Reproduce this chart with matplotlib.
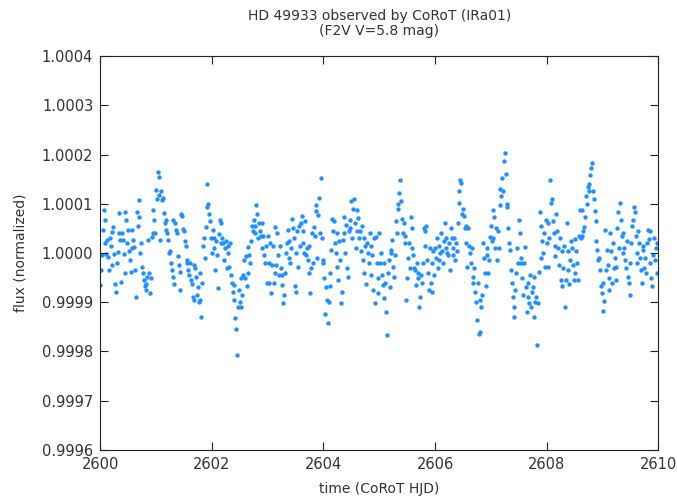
import numpy as np
import matplotlib
matplotlib.use("Agg")
import matplotlib.pyplot as plt
from matplotlib.ticker import FormatStrFormatter, MultipleLocator

# Flux deviations (ppm), one list per day,
# equally spaced points inside each day
d2600 = [-65, -35, -4, 47, 87, 67, 20, -2, 26, -8, -35, 30, 14, -25, 43, 53,
         -2, -62, -79, -21, 2, 81, 40, 26, -58, 40, 26, -3, -41, 84, 67, 20,
         47, 4, -14, -38, 10, 47, 26, 13, -35, -89, 84, 55, 108, 74, 0, 20,
         -28, -41, -55, -68, -75, -62, -48, 26, -40, -82, -50, 33, 40, 87, 67, 40]
d2601 = [128, 110, 165, 155, 118, 26, 125, 108, 112, 81, 60, 67, 47, 40, 26, 0,
         5, -20, -35, -48, 67, -62, 60, 47, 40, -7, -24, -38, -75, 80, 75, 48,
         45, 25, 15, -20, -14, -35, -45, -20, -55, -62, -90, -25, -95, -30, -48, -85,
         -70, -100, -40, -95, -130, -60, 15, 30, -10, 53, 94, 141, 100, 80, 64, 30]
d2602 = [0, 47, 30, 10, -35, 25, -5, -72, 38, 67, 20, 60, 30, 20, -14, 10,
         25, -30, 0, 15, -28, 20, -45, -60, -80, -65, -95, -133, -155, -207, -110, -75,
         -100, -110, -50, -85, -45, -14, -50, -7, -68, -40, 13, -5, -20, 25, 55, 45,
         67, 40, 55, 97, 80, 30, 60, 45, 35, 60, 10, 35, -5, -21, 15, -60]
d2603 = [35, -21, -60, 20, -82, -25, 15, -60, 53, -40, -25, 40, -5, -45, 15, -30,
         -45, -65, -102, -85, -40, 0, 20, 47, -10, 25, -20, 10, 70, 50, 30, -68,
         0, -80, 45, -28, 55, 15, 60, 75, 45, 20, 0, 65, -5, 10, -15, -40,
         15, -82, -30, 40, -20, 53, 35, 97, 85, -10, 78, 111, 40, 152, 30, -20]
d2604 = [-15, -50, -123, -70, -95, -143, -100, -68, -40, 6, 70, 45, 65, 20, 0, -28,
         40, -55, 25, -15, -102, -80, 26, 40, 74, 0, 57, -30, -48, 45, 50, 67,
         105, 30, 90, 110, 60, 10, 87, 45, 72, 30, 45, 5, 55, -15, 30, -41,
         15, -62, 20, 0, -20, 40, 15, -45, -5, -75, 30, -102, 33, -20, -50, -82]
d2605 = [40, -20, 0, -45, -65, -20, -92, -60, -119, -167, -40, -14, -70, 0, 6, 26,
         -28, -48, -5, 64, 40, 100, 90, 121, 148, 105, 70, 40, 60, 20, 35, -95,
         -50, -10, 20, -30, 74, 50, 10, -5, -30, -35, -65, -20, -50, -40, -109, -89,
         -45, -60, -20, 50, 45, 15, 55, -15, -40, -75, 10, -60, -80, -20, 5, -45]
d2606 = [10, -10, 30, -30, 15, -15, 0, 40, 5, -20, 25, 60, 10, 30, 0, -5,
         20, -35, 50, 30, 10, -5, 30, -14, 20, 5, 60, 101, 125, 148, 143, 80,
         90, 75, 50, 20, 55, -28, 50, 15, 0, -20, 10, -48, -60, -30, -80, -100,
         -136, -60, -165, -95, -160, -110, -85, 20, -10, -41, -68, 10, -5, -40, -14, 33]
d2607 = [55, 25, 87, 30, 74, 10, 50, -14, 45, 10, 97, 130, 115, 152, 125, 186,
         203, 160, 94, 100, 50, 20, 6, -35, -60, -90, -130, -109, -75, -40, 10, -21,
         67, 40, -10, -20, -50, -85, -20, 12, -70, -119, -89, -60, -102, -45, -109, -80,
         -70, -48, -130, -100, -90, -187, -102, -38, 84, -10, 55, 25, 0, 40, -28, 67]
d2608 = [20, -28, 60, 30, 148, 102, 110, 65, 40, 15, -7, 80, 45, 10, -25, 30,
         -55, 5, -68, -30, 15, -109, -55, 60, 5, -35, -62, -15, 25, 10, -25, -55,
         28, -40, 5, -20, -55, 35, 87, 30, 35, 87, 45, 53, 74, 115, 100, 135,
         125, 140, 158, 172, 182, 125, 110, 85, 64, 25, 6, -14, -10, -35, -68, -82]
d2609 = [-118, -60, -98, 47, -35, 6, -25, -50, -75, 40, 5, -60, 20, -30, -10, -28,
         -55, 50, 84, 10, 101, 67, 35, 0, 40, 10, -15, -30, 25, -48, -60, -85,
         -20, 20, 55, 67, 94, 84, 35, 0, -20, 45, 20, -10, -35, -60, 6, 15,
         -30, -10, -40, 20, 47, 28, -20, 45, -50, -68, -5, 30, -15, 10, -40, 20]

days = [2600, 2601, 2602, 2603, 2604, 2605, 2606, 2607, 2608, 2609]
per_day = [d2600, d2601, d2602, d2603, d2604, d2605, d2606, d2607, d2608, d2609]

time = []
flux = []
for day, vals in zip(days, per_day):
    n = len(vals)
    time.extend(day + np.arange(n) / n)
    flux.extend(1.0 + np.array(vals) * 1e-6)

txt = "#333333"
plt.rcParams['font.family'] = 'DejaVu Sans'

fig = plt.figure(figsize=(6.77, 4.97), dpi=100)
ax = fig.add_axes([0.148, 0.0946, 0.8244, 0.7927])

ax.scatter(time, flux, s=10, color="#1e90ff", linewidths=0)

ax.set_xlim(2600, 2610)
ax.set_ylim(0.9996, 1.0004)
ax.xaxis.set_major_locator(MultipleLocator(2))
ax.yaxis.set_major_locator(MultipleLocator(0.0001))
ax.yaxis.set_major_formatter(FormatStrFormatter('%.4f'))

ax.tick_params(direction='in', length=6, width=0.8, top=True, right=True,
               labelsize=10.5, colors="#222222", labelcolor=txt, pad=5)
for sp in ax.spines.values():
    sp.set_color("#222222")
    sp.set_linewidth(0.8)

ax.set_xlabel("time (CoRoT HJD)", fontsize=10, color=txt, labelpad=7)
ax.set_ylabel("flux (normalized)", fontsize=10, color=txt, labelpad=10)
ax.set_title("HD 49933 observed by CoRoT (IRa01)\n(F2V V=5.8 mag)",
             fontsize=10, color=txt, pad=15, linespacing=1.1)

fig.savefig("out.png", dpi=100)
